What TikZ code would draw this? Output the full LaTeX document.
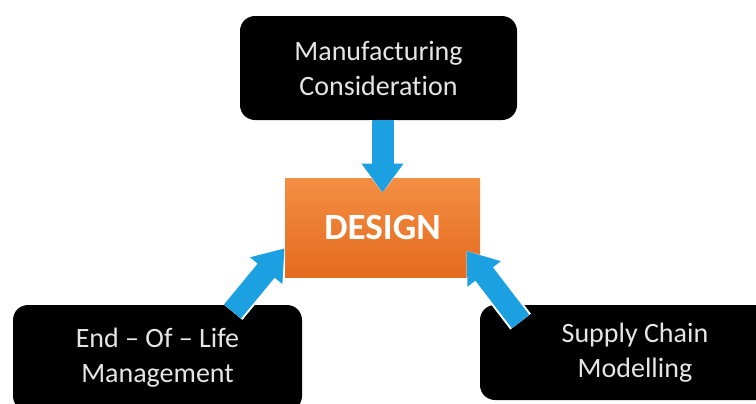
\documentclass[tikz,border=0pt]{standalone}
\usepackage{fontspec}
\setmainfont{Carlito}[Ligatures={TeX,NoCommon}]
\usetikzlibrary{arrows.meta}
\definecolor{coretop}{RGB}{243,142,66}
\definecolor{corebottom}{RGB}{228,107,30}
\definecolor{flowblue}{RGB}{27,161,226}
\tikzstyle{box}=[fill=black, rounded corners=7.5pt, inner sep=0pt, align=center,
    text=white!90!black, font=\fontsize{14}{17.5}\selectfont]
\tikzstyle{core}=[top color=coretop, bottom color=corebottom, inner sep=0pt,
    text=white, font=\bfseries\fontsize{18.5}{22}\selectfont]
\tikzstyle{flow}=[draw=flowblue, line width=11pt, -{Triangle[length=14.5pt,width=20pt]},
    preaction={draw=white, line width=13pt, -{Triangle[length=16.5pt,width=24pt]}}]

\begin{document}
\begin{tikzpicture}[x=0.5pt, y=-0.5pt]
  \useasboundingbox (0,0) rectangle (756,403);

  \node[box, minimum width=138.5pt, minimum height=52pt] (manuf) at (378.5,68)
      {Manufacturing\\Consideration};
  \node[core, minimum width=97.5pt, minimum height=49.5pt] (design) at (382.5,227.5)
      {DESIGN};
  \node[box, minimum width=144.5pt, minimum height=53pt] (eol) at (157.5,358)
      {End – Of – Life\\Management};
  \node[box, minimum width=155pt, minimum height=47.5pt] (supply) at (635,352.5)
      {Supply Chain\\Modelling};

  \path[flow, shorten >=-7.5pt] (manuf.south -| design.north) -- (design.north);
  \path[flow] ([shift={(-35pt,-3.5pt)}]eol.north east) -- (design.192);
  \path[flow, shorten >=-11.4pt] ([shift={(20.5pt,-8.5pt)}]supply.north west) -- (design.-23.5);

\end{tikzpicture}
\end{document}
